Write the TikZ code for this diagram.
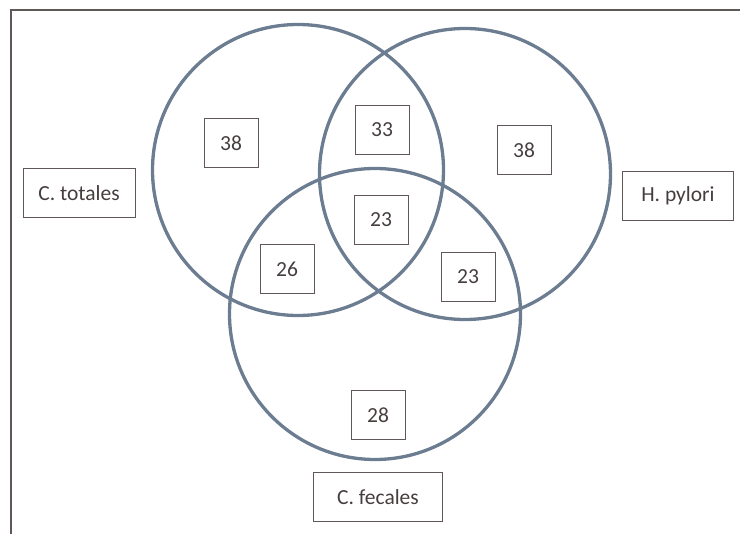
\documentclass[tikz,border=0pt]{standalone}
\usepackage{fontspec}
\setmainfont{Carlito}
\usepackage{xcolor}
\usetikzlibrary{positioning}

\definecolor{vennline}{RGB}{108,124,145}
\definecolor{boxline}{RGB}{95,88,86}
\definecolor{txt}{RGB}{70,62,62}

\begin{document}
\begin{tikzpicture}[
    x=1pt, y=-1pt,
    venn/.style={circle, draw=vennline, line width=3.3pt, minimum size=291pt, inner sep=0pt},
    numbox/.style={rectangle, draw=boxline, line width=1pt, minimum width=54pt, minimum height=49pt, font=\fontsize{21.5}{24}\selectfont, text=txt},
    setlabel/.style={rectangle, draw=boxline, line width=1pt, minimum height=49pt, font=\fontsize{21.5}{24}\selectfont, text=txt}
]
\useasboundingbox (0,0) rectangle (740,534);
% page frame (only top and left edges show)
\draw[boxline, line width=1.2pt] (11,534) -- (11,10) -- (740,10);

% sets
\node[venn] (ctot) at (298,170) {};
\node[venn] (hpyl) at (465,174) {};
\node[venn] (cfec) at (375,314) {};

% counts
\node[numbox] (a)   at (231,143) {38};
\node[numbox] (ab)  at (382,130) {33};
\node[numbox] (b)   at (524,150) {38};
\node[numbox] (abc) at (381,220) {23};
\node[numbox] (ac)  at (287,269) {26};
\node[numbox] (bc)  at (468,277) {23};
\node[numbox] (c)   at (378,415) {28};

% set names
\node[setlabel, minimum width=112pt] (lctot) at (79,193) {C. totales};
\node[setlabel, minimum width=111pt] (lhpyl) at (678,196) {H. pylori};
\node[setlabel, minimum width=129pt] (lcfec) at (378,497) {C. fecales};
\end{tikzpicture}
\end{document}
